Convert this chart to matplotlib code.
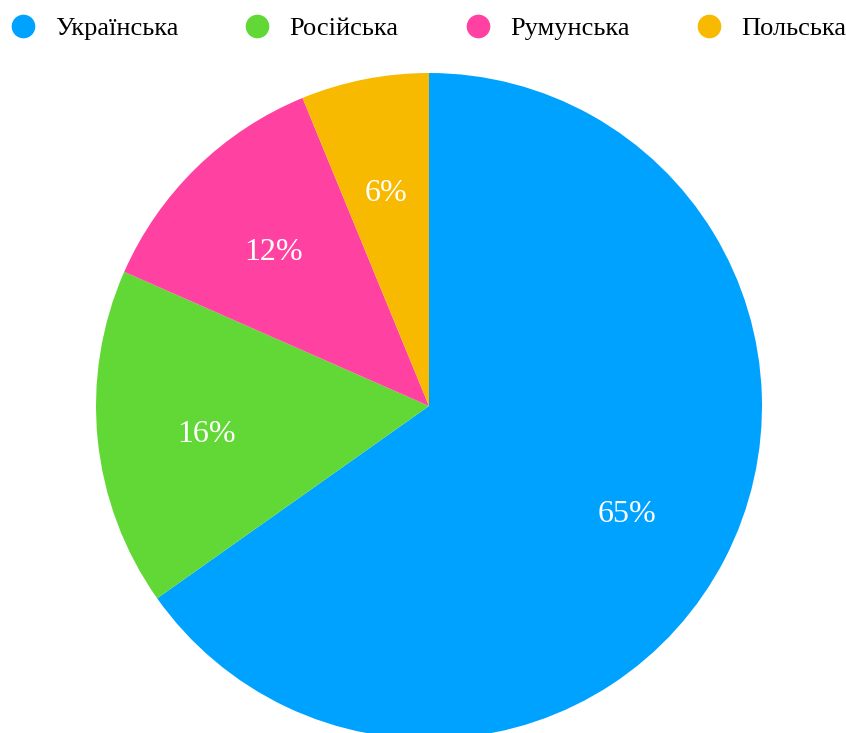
import matplotlib
matplotlib.use("Agg")
import matplotlib.pyplot as plt
from matplotlib.lines import Line2D
from matplotlib.transforms import offset_copy

categories = ["Українська", "Російська", "Румунська", "Польська"]
values = [65.2, 16.4, 12.2, 6.2]
colors = ["#00A2FF", "#61D836", "#FF42A1", "#F8BA00"]

plt.rcParams['font.family'] = ['Liberation Serif', 'DejaVu Serif']

W, H = 846, 733
fig = plt.figure(figsize=(W / 100, H / 100), dpi=100)
cx, cy, r = 429, 406, 333
ax = fig.add_axes([(cx - r) / W, (H - cy - r) / H, 2 * r / W, 2 * r / H])

wedges, texts, autotexts = ax.pie(
    values, colors=colors, startangle=90, counterclock=False,
    autopct=lambda p: f"{p:.0f}%", pctdistance=0.67, radius=1,
    textprops=dict(color="white", fontsize=23),
    wedgeprops=dict(linewidth=0),
)
shifted = offset_copy(ax.transData, fig=fig, x=0, y=-6, units="dots")
for t in autotexts:
    t.set_transform(shifted)
ax.set_xlim(-1, 1)
ax.set_ylim(-1, 1)
ax.set_aspect("equal")
ax.axis("off")

handles = [Line2D([0], [0], marker="o", linestyle="", markersize=16,
                  markerfacecolor=c, markeredgecolor=c) for c in colors]
fig.legend(handles, categories, loc="upper left",
           bbox_to_anchor=(-9 / W, 1.0 + 1.5 / H),
           ncol=4, frameon=False, fontsize=19.0, handletextpad=0.72,
           columnspacing=2.5, borderaxespad=0.3, handlelength=1.0)

fig.savefig("out.png", dpi=100)
